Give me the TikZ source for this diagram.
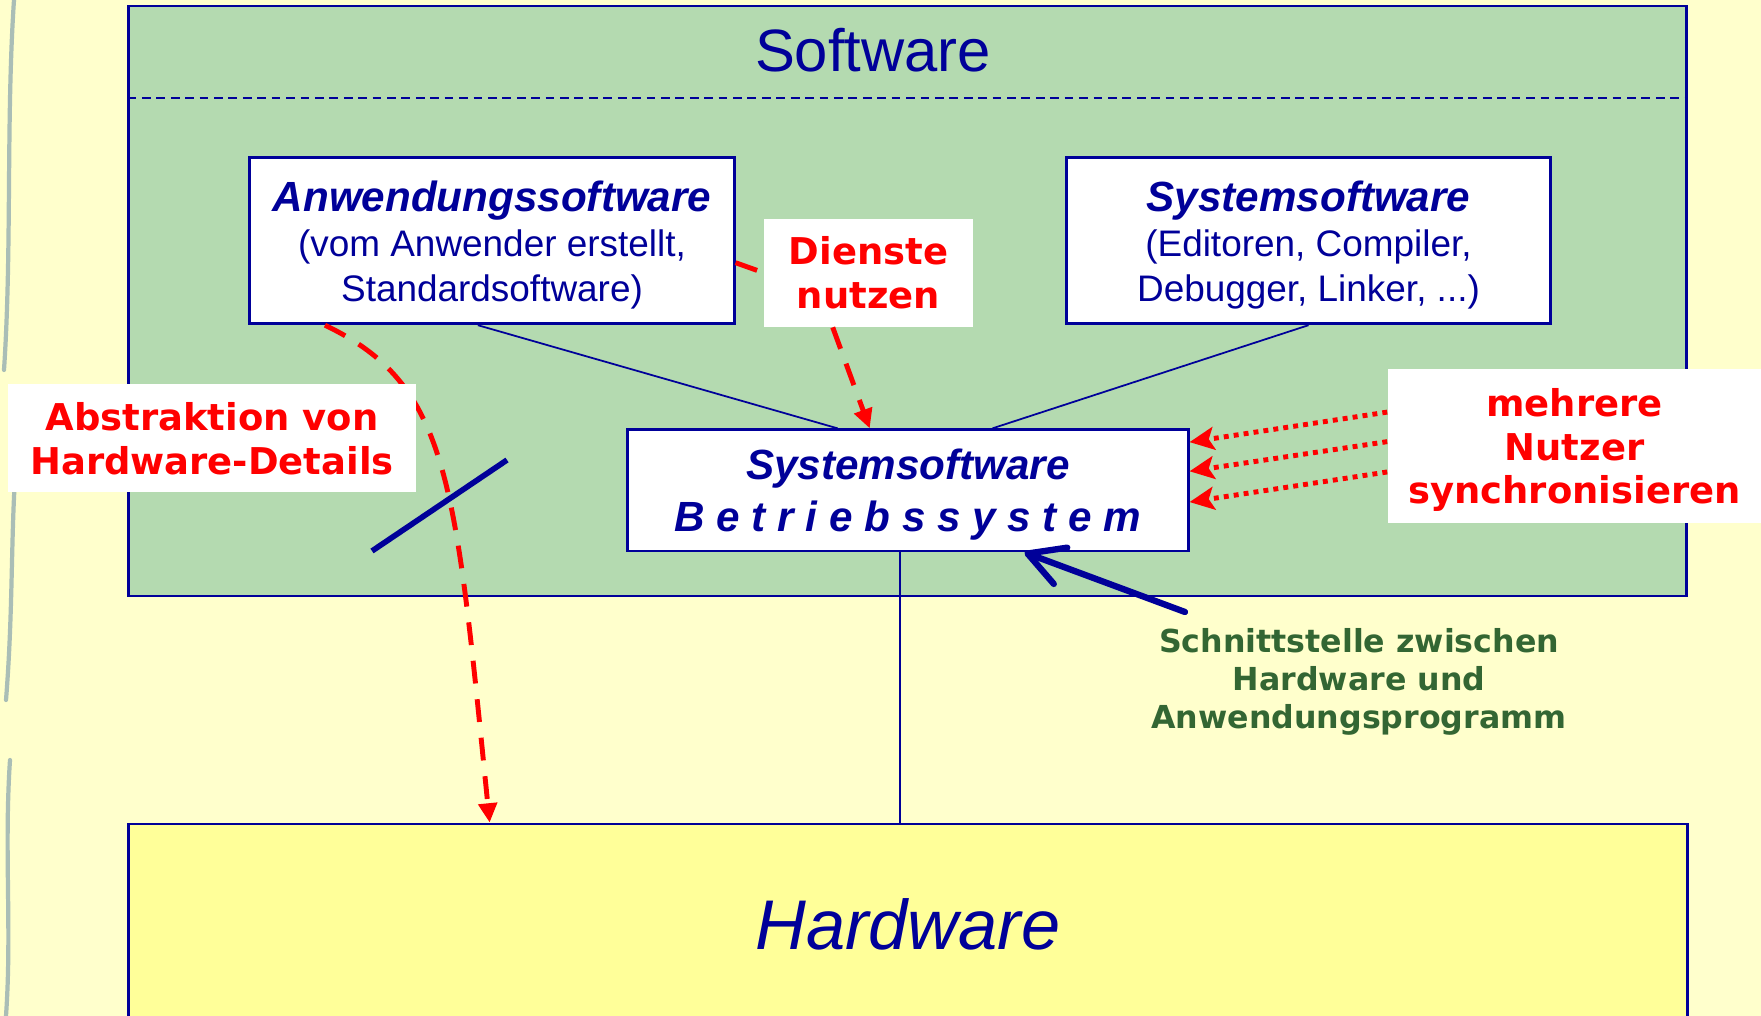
\documentclass[tikz,border=0pt]{standalone}
\usepackage{fontspec}
\setmainfont{Liberation Sans}
\newfontfamily\verd{DejaVu Sans}
\usetikzlibrary{arrows.meta,positioning,calc}
\definecolor{navy}{RGB}{0,0,153}
\definecolor{swgreen}{RGB}{180,218,176}
\definecolor{bgyellow}{RGB}{255,255,204}
\definecolor{hwyellow}{RGB}{255,255,153}
\definecolor{txtgreen}{RGB}{51,102,51}
\definecolor{decogray}{RGB}{170,190,182}
\newcommand\boxhead[1]{{\bfseries\itshape\fontsize{12}{14}\selectfont #1}}

\begin{document}
\begin{tikzpicture}[x=0.01cm,y=-0.01cm,
        every node/.style={inner sep=0pt},
        frame/.style={draw=navy,line width=0.6pt},
        box/.style={draw=navy,fill=white,line width=0.8pt,text=navy,align=center,
                    minimum width=4.84cm,minimum height=1.66cm,text depth=0pt,
                    font=\fontsize{10.5}{12.8}\selectfont},
        note/.style={fill=white,text=red,align=center,text depth=0pt,
                    font=\verd\bfseries\fontsize{10.5}{12.5}\selectfont},
        link/.style={draw=navy,line width=0.5pt},
        dienst/.style={draw=red,line width=1.4pt,dash pattern=on 6.5pt off 4.5pt,
                    -{Triangle[length=5.5pt,width=5.2pt]}},
        sync/.style={draw=red,line width=1.4pt,dash pattern=on 1.4pt off 1.45pt,
                    -{Stealth[length=7pt,width=6.5pt,inset=1.5pt]}},
        cut/.style={draw=navy,line width=1.6pt},
        deco/.style={draw=decogray,line width=1.2pt,line cap=round}]

    \useasboundingbox[fill=bgyellow] (0,0) rectangle (1761,1016);
    \draw[deco] (14,0) .. controls (6,120) and (12,250) .. (4,370);
    \draw[deco] (18,440) .. controls (10,520) and (14,600) .. (6,700);
    \draw[deco] (10,760) .. controls (4,850) and (12,930) .. (6,1016);

    \node[frame,fill=swgreen,minimum width=15.57cm,minimum height=5.895cm] (sw) at (907.5,301.25) {};
    \draw[navy,line width=0.6pt,dash pattern=on 2.5pt off 1.6pt] (sw.west |- 0,97.6) -- (sw.east |- 0,97.6);
    \node[text=navy,font=\fontsize{17}{20}\selectfont] (sw_t) at (873,50) {Software};

    \node[frame,fill=hwyellow,minimum width=15.58cm,minimum height=2.006cm,
          text=navy,font=\itshape\fontsize{20}{24}\selectfont] (hw) at (908,924) {Hardware};

    \node[box] (anw) at (492,240.75) {\boxhead{Anwendungssoftware}\\(vom Anwender erstellt,\\Standardsoftware)};
    \node[box,on grid,right=8.16cm of anw] (sys) {\boxhead{Systemsoftware}\\(Editoren, Compiler,\\Debugger, Linker, ...)};
    \node[box,minimum width=5.6cm,minimum height=1.212cm,font=\bfseries\itshape\fontsize{12}{14.7}\selectfont] (bs) at (908,490.4)
        {Systemsoftware\\B e t r i e b s s y s t e m};

    \draw[link] ($(anw.south west)!0.471!(anw.south east)$) -- ($(bs.north west)!0.375!(bs.north east)$);
    \draw[link] (sys.south) -- ($(bs.north west)!0.65!(bs.north east)$);
    \draw[link] ($(bs.south west)!0.486!(bs.south east)$) coordinate (bs_s) -- (bs_s |- hw.north);

    \draw[dienst] ($(anw.south west)!0.157!(anw.south east)$) .. controls (450,385) and (455,480) .. ($(hw.north west)!0.232!(hw.north east)$);
    \draw[cut] (372,551) -- (507,460);

    \node[note,minimum width=2.09cm,minimum height=1.08cm] (dn) at (868.5,272.6) {Dienste\\nutzen};
    \node[note,minimum width=4.08cm,minimum height=1.085cm,text depth=-2pt] (abs) at (212,438.2) {Abstraktion von\\Hardware-Details};
    \node[note,minimum width=3.73cm,minimum height=1.54cm] (mn) at (1574.5,446) {mehrere\\Nutzer\\synchronisieren};

    \draw[dienst,-] ($(anw.north east)!0.63!(anw.south east)$) -- (dn.west);
    \draw[dienst] ($(dn.south west)!0.33!(dn.south east)$) -- ($(bs.north west)!0.432!(bs.north east)$);
    \foreach \a/\b in {0.282/0.111,0.472/0.346,0.667/0.594}
        \draw[sync] ($(mn.north west)!\a!(mn.south west)$) -- ($(bs.north east)!\b!(bs.south east)$);

    \coordinate (ifc) at (1185,612);
    \draw[navy,line width=1.8pt,line cap=round,-{Straight Barb[length=10pt,width=11pt,round]}] (ifc) -- ($(bs.south west)!0.707!(bs.south east)$);
    \node[text=txtgreen,align=center,text depth=0pt,font=\verd\bfseries\fontsize{9}{10.8}\selectfont] (ifc_t) at (1359,678)
        {Schnittstelle zwischen\\Hardware und\\Anwendungsprogramm};
\end{tikzpicture}
\end{document}
